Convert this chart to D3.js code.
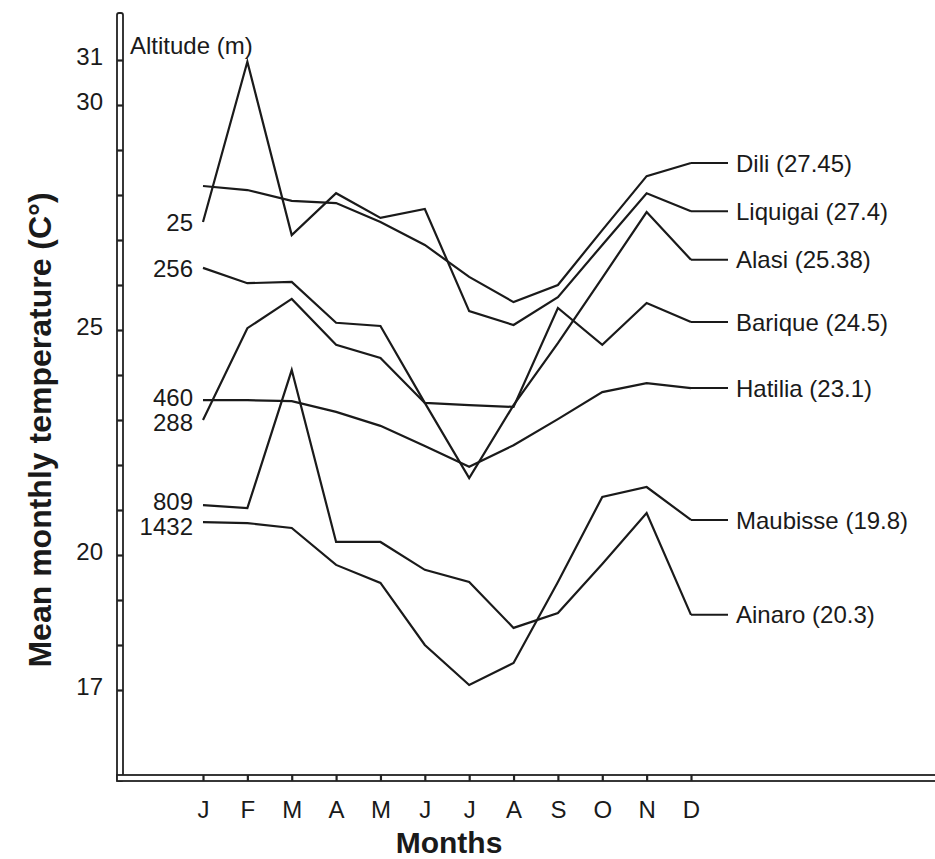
<!DOCTYPE html>
<html lang="en">
<head>
    <meta charset="UTF-8">
    <title>Mean monthly temperature</title>
    <script src="https://cdn.jsdelivr.net/npm/d3@7"></script>
    <style>
        body { margin: 0; background: #fff; }
        text { font-family: "Liberation Sans", Arial, Helvetica, sans-serif; fill: #1a1a1a; }
        .lbl { font-size: 24px; }
        .ttl { font-size: 30px; font-weight: bold; }
        .ytl { font-size: 32px; font-weight: bold; }
    </style>
</head>
<body>
<script type="text/javascript">

    // data
    var monthLabels = ["J", "F", "M", "A", "M", "J", "J", "A", "S", "O", "N", "D"];
    var stations = ["Dili", "Liquigai", "Alasi", "Barique", "Hatilia", "Maubisse", "Ainaro"];
    var annualMeans = ["27.45", "27.4", "25.38", "24.5", "23.1", "19.8", "20.3"];
    var altitudes = ["", "25", "256", "288", "460", "1432", "809"];

    var dili     = [28.2, 28.11, 27.87, 27.82, 27.4, 26.89, 26.18, 25.62, 26.0, 27.22, 28.42, 28.71];
    var liquigai = [27.4, 30.96, 27.11, 28.04, 27.49, 27.69, 25.42, 25.11, 25.73, 26.89, 28.04, 27.64];
    var alasi    = [26.38, 26.04, 26.07, 25.16, 25.09, 23.38, 21.71, 23.33, 24.71, 26.16, 27.62, 26.56];
    var barique  = [23.0, 25.04, 25.69, 24.67, 24.38, 23.38, 23.33, 23.29, 25.49, 24.67, 25.6, 25.18];
    var hatilia  = [23.44, 23.44, 23.42, 23.18, 22.87, 22.42, 21.96, 22.44, 23.02, 23.62, 23.82, 23.71];
    var maubisse = [20.73, 20.71, 20.6, 19.78, 19.38, 18.0, 17.11, 17.6, 19.4, 21.29, 21.51, 20.78];
    var ainaro   = [21.11, 21.04, 24.11, 20.29, 20.29, 19.67, 19.4, 18.38, 18.71, 19.8, 20.93, 18.67];

    var series = [dili, liquigai, alasi, barique, hatilia, maubisse, ainaro];
    var labelledTicks = [17, 20, 25, 30, 31];

    var w = 935, h = 859;

    var x = d3.scaleLinear().domain([0, 11]).range([203, 691]);
    var y = d3.scaleLinear().domain([17, 31]).range([690, 60]);

    var svg = d3.select("body").append("svg")
        .attr("width", w)
        .attr("height", h);

    svg.append("rect").attr("width", w).attr("height", h).attr("fill", "#fff");

    // axis bars (double line look)
    svg.append("rect")
        .attr("x", 117).attr("y", 13).attr("width", 6).attr("height", 768)
        .attr("rx", 2)
        .attr("fill", "#fff").attr("stroke", "#222").attr("stroke-width", 1.8);
    svg.append("rect")
        .attr("x", 117).attr("y", 775).attr("width", 830).attr("height", 6)
        .attr("fill", "#fff").attr("stroke", "#222").attr("stroke-width", 1.8);

    // y ticks, every degree
    var yTicks = svg.append("g")
        .attr("transform", "translate(117,0)")
        .call(d3.axisRight(y).tickValues(d3.range(17, 32)).tickSize(6).tickFormat(""));
    yTicks.select(".domain").remove();
    yTicks.selectAll("line").attr("stroke", "#222").attr("stroke-width", 2.2);

    var yLabels = svg.append("g")
        .attr("transform", "translate(103,0)")
        .call(d3.axisLeft(y).tickValues(labelledTicks).tickSize(0).tickPadding(0));
    yLabels.select(".domain").remove();
    yLabels.selectAll("text")
        .attr("class", "lbl")
        .attr("font-size", null).attr("font-family", null)
        .attr("dy", "0.2em");

    // x axis
    var xAxis = svg.append("g")
        .attr("transform", "translate(0,775)")
        .call(d3.axisBottom(x).tickValues(d3.range(12)).tickSize(6)
            .tickPadding(20).tickFormat(function(i) { return monthLabels[i]; }));
    xAxis.select(".domain").remove();
    xAxis.selectAll("line").attr("stroke", "#222").attr("stroke-width", 2.2);
    xAxis.selectAll("text")
        .attr("class", "lbl")
        .attr("font-size", null).attr("font-family", null);

    // lines
    var line = d3.line()
        .x(function(d, i) { return x(i); })
        .y(function(d) { return y(d); });

    svg.selectAll(".station")
        .data(series)
        .enter()
        .append("path")
        .attr("class", "station")
        .attr("d", line)
        .attr("fill", "none")
        .attr("stroke", "#1a1a1a")
        .attr("stroke-width", 2.2)
        .attr("stroke-linejoin", "miter");

    // right labels with leaders
    svg.selectAll(".leader")
        .data(series)
        .enter()
        .append("line")
        .attr("class", "leader")
        .attr("x1", x(11)).attr("x2", 728)
        .attr("y1", function(d) { return y(d[11]); })
        .attr("y2", function(d) { return y(d[11]); })
        .attr("stroke", "#1a1a1a").attr("stroke-width", 2);

    svg.selectAll(".stn")
        .data(series)
        .enter()
        .append("text")
        .attr("class", "stn lbl")
        .attr("x", 736)
        .attr("y", function(d) { return y(d[11]); })
        .attr("dy", "0.36em")
        .text(function(d, i) { return stations[i] + " (" + annualMeans[i] + ")"; });

    // altitude labels on the left, pushed apart where they crowd
    var alt = series.map(function(d, i) { return { name: altitudes[i], py: y(d[0]) }; })
        .filter(function(d) { return d.name !== ""; })
        .sort(function(a, b) { return a.py - b.py; });
    for (var k = 1; k < alt.length; k++) {
        var gap = alt[k].py - alt[k - 1].py;
        if (gap < 25) {
            alt[k - 1].py -= (25 - gap) / 2;
            alt[k].py += (25 - gap) / 2;
        }
    }
    svg.selectAll(".alt")
        .data(alt)
        .enter()
        .append("text")
        .attr("class", "alt lbl")
        .attr("x", 193)
        .attr("y", function(d) { return d.py; })
        .attr("dy", "0.36em")
        .attr("text-anchor", "end")
        .text(function(d) { return d.name; });

    svg.append("text")
        .attr("class", "lbl")
        .attr("x", 130).attr("y", 54)
        .text("Altitude (m)");

    // titles
    svg.append("text")
        .attr("class", "ttl")
        .attr("text-anchor", "middle")
        .attr("x", (x(0) + x(11)) / 2 + 2)
        .attr("y", 853)
        .text("Months");

    svg.append("text")
        .attr("class", "ytl")
        .attr("text-anchor", "middle")
        .attr("transform", "translate(51,430) rotate(-90)")
        .text("Mean monthly temperature (C\u00b0)");

</script>
</body>
</html>
